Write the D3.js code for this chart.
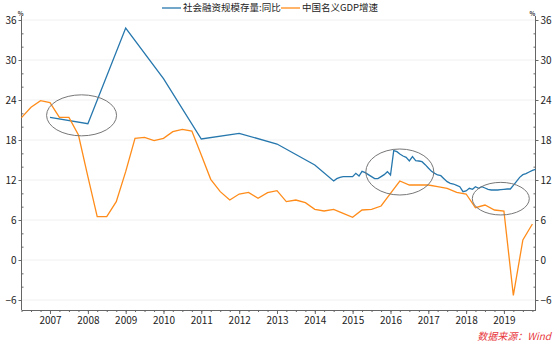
<!DOCTYPE html>
<html>
<head>
<meta charset="utf-8">
<script src="https://cdn.jsdelivr.net/npm/d3@7"></script>
<style>
  body { margin: 0; background: #fff; }
  text { font-family: "Microsoft YaHei", "Noto Sans CJK SC", sans-serif; }
</style>
</head>
<body>
<div id="chart"></div>
<script>
// series names
var seriesNames = ["社会融资规模存量:同比", "中国名义GDP增速"];

// 社融存量同比: year-end points first, monthly later
var tsfDates = ["2007-12", "2008-12", "2009-12", "2010-12", "2011-12", "2012-12", "2013-12", "2014-12",
  "2015-06", "2015-07", "2015-08", "2015-09", "2015-10", "2015-11", "2015-12",
  "2016-01", "2016-02", "2016-03", "2016-04", "2016-05", "2016-06", "2016-07", "2016-08", "2016-09", "2016-10", "2016-11", "2016-12",
  "2017-01", "2017-02", "2017-03", "2017-04", "2017-05", "2017-06", "2017-07", "2017-08", "2017-09", "2017-10", "2017-11", "2017-12",
  "2018-01", "2018-02", "2018-03", "2018-04", "2018-05", "2018-06", "2018-07", "2018-08", "2018-09", "2018-10", "2018-11", "2018-12",
  "2019-01", "2019-02", "2019-03", "2019-04", "2019-05", "2019-06", "2019-07", "2019-08", "2019-09", "2019-10", "2019-11", "2019-12",
  "2020-01", "2020-02", "2020-03", "2020-04", "2020-05", "2020-06", "2020-07", "2020-08", "2020-09", "2020-10"];
var tsfValues = [21.4, 20.45, 34.8, 27.2, 18.15, 19.0, 17.4, 14.25,
  11.85, 12.2, 12.4, 12.5, 12.5, 12.5, 12.5,
  13.0, 12.6, 13.3, 13.1, 12.8, 12.5, 12.2, 12.2, 12.5, 12.8, 13.25, 12.75,
  16.4, 16.25, 15.9, 15.6, 15.4, 14.85, 15.5, 14.9, 14.85, 14.75, 14.3, 13.8,
  13.3, 13.0, 12.75, 12.65, 12.2, 11.75, 11.5, 11.4, 11.2, 11.0, 10.25, 10.35,
  10.75, 10.6, 11.0, 10.75, 11.0, 10.8, 10.6, 10.5, 10.5, 10.5, 10.55, 10.6,
  10.65, 10.65, 11.2, 11.8, 12.4, 12.8, 12.95, 13.2, 13.45, 13.6];

// 名义GDP增速, quarterly from 2007Q1
var gdpStart = "2007-03";
var gdpValues = [21.35, 22.9, 23.9, 23.6, 21.4, 21.4, 18.75, 12.5,
  6.5, 6.5, 8.75, 13.25, 18.25, 18.4, 17.9, 18.25,
  19.25, 19.6, 19.35, 15.75, 12.1, 10.25, 9.0, 9.9,
  10.15, 9.25, 10.1, 10.4, 8.75, 9.0, 8.6, 7.6,
  7.35, 7.6, 7.0, 6.4, 7.5, 7.6, 8.1, 10.0,
  11.85, 11.25, 11.25, 11.25, 11.0, 10.75, 10.15, 9.9,
  7.85, 8.25, 7.5, 7.35, -5.3, 3.0, 5.4];

var yTicks = [-6, 0, 6, 12, 18, 24, 30, 36];
var yearLabels = [2007, 2008, 2009, 2010, 2011, 2012, 2013, 2014, 2015, 2016, 2017, 2018, 2019];

// annotation ellipses: [date, value, rx, ry]
var circles = [["2008-10", 21.7, 35, 20.5], ["2017-03", 13.2, 34, 23], ["2019-11", 9.2, 28.5, 16.3]];

var svgWidth = 554, svgHeight = 343;
var parseMonth = d3.timeParse("%Y-%m");

var svg = d3.select("#chart").append("svg")
  .attr("width", svgWidth)
  .attr("height", svgHeight);

var x = d3.scaleTime()
  .domain([parseMonth("2007-03"), parseMonth("2020-10")])
  .range([21.5, 535.5]);
var y = d3.scaleLinear()
  .domain([-7.5, 36])
  .range([310, 20]);

var tsf = tsfDates.map(function(d, i) { return {date: parseMonth(d), value: tsfValues[i]}; });
var gdp = gdpValues.map(function(v, i) { return {date: d3.timeMonth.offset(parseMonth(gdpStart), 3 * i), value: v}; });

// grid
svg.append("g").selectAll("line")
  .data(yTicks)
  .enter().append("line")
  .attr("x1", x.range()[0]).attr("x2", x.range()[1])
  .attr("y1", d => y(d)).attr("y2", d => y(d))
  .attr("stroke", "#f0f0f0");

// y axes: majors outward with labels, minors inward
var minorY = d3.range(-6, 37, 2);
function yAxis(side) {
  var xPos = side == "left" ? x.range()[0] : x.range()[1];
  var g = svg.append("g").attr("transform", `translate(${xPos},0)`);
  var major = side == "left" ? d3.axisLeft(y) : d3.axisRight(y);
  g.call(major.tickValues(yTicks).tickSize(3).tickPadding(2).tickSizeOuter(0));
  var minor = side == "left" ? d3.axisRight(y) : d3.axisLeft(y);
  g.append("g").call(minor.tickValues(minorY.filter(v => yTicks.indexOf(v) < 0)).tickSize(2).tickFormat("").tickSizeOuter(0));
  g.selectAll(".domain").attr("stroke", "#666").attr("d", `M0,${y(36) - 4}V${y.range()[0]}`);
  g.selectAll(".tick line").attr("stroke", "#666");
  g.selectAll("text").attr("font-size", "10px").attr("fill", "#222");
  g.append("text")
    .attr("x", side == "left" ? 2 : -6)
    .attr("y", y(36) - 4)
    .attr("font-size", "6px").attr("font-weight", "bold").attr("fill", "#333")
    .text("%");
}
yAxis("left");
yAxis("right");

// x axis: quarterly minor ticks, year labels on December
var xg = svg.append("g").attr("transform", `translate(0,${y.range()[0]})`);
var quarters = d3.timeMonth.range(parseMonth("2007-03"), parseMonth("2020-11"), 3);
xg.call(d3.axisBottom(x).tickValues(quarters).tickSize(2).tickFormat("").tickSizeOuter(0));
var decs = yearLabels.map(yr => parseMonth(yr + "-12"));
xg.append("g").call(d3.axisBottom(x).tickValues(decs).tickSize(4).tickPadding(3)
  .tickFormat(d3.timeFormat("%Y")).tickSizeOuter(0));
xg.selectAll(".domain").attr("stroke", "#666");
xg.selectAll(".tick line").attr("stroke", "#666");
xg.selectAll("text").attr("font-size", "10px").attr("fill", "#222");

// lines
var line = d3.line().x(d => x(d.date)).y(d => y(d.value));
svg.append("path").datum(tsf)
  .attr("fill", "none").attr("stroke", "#2677ad").attr("stroke-width", 1.3)
  .attr("d", line);
svg.append("path").datum(gdp)
  .attr("fill", "none").attr("stroke", "#ff8c1a").attr("stroke-width", 1.3)
  .attr("d", line);

// ellipses
svg.append("g").selectAll("ellipse")
  .data(circles)
  .enter().append("ellipse")
  .attr("cx", d => x(parseMonth(d[0])))
  .attr("cy", d => y(d[1]))
  .attr("rx", d => d[2]).attr("ry", d => d[3])
  .attr("fill", "none").attr("stroke", "#777").attr("stroke-width", 1);

// legend
var legendColors = ["#2677ad", "#ff8c1a"];
var legendX = [162, 281];
var legend = svg.append("g");
seriesNames.forEach(function(name, i) {
  legend.append("line")
    .attr("x1", legendX[i]).attr("x2", legendX[i] + 19)
    .attr("y1", 8).attr("y2", 8)
    .attr("stroke", legendColors[i]).attr("stroke-width", 1.3);
  legend.append("text")
    .attr("x", legendX[i] + 21).attr("y", 8)
    .attr("dy", "0.35em")
    .attr("font-size", "9.5px").attr("fill", "#222")
    .text(name);
});

// source
svg.append("text")
  .attr("x", 551).attr("y", 340)
  .attr("text-anchor", "end")
  .attr("font-size", "10px").attr("font-style", "italic")
  .attr("fill", "#e8383d")
  .text("数据来源：Wind");
</script>
</body>
</html>
